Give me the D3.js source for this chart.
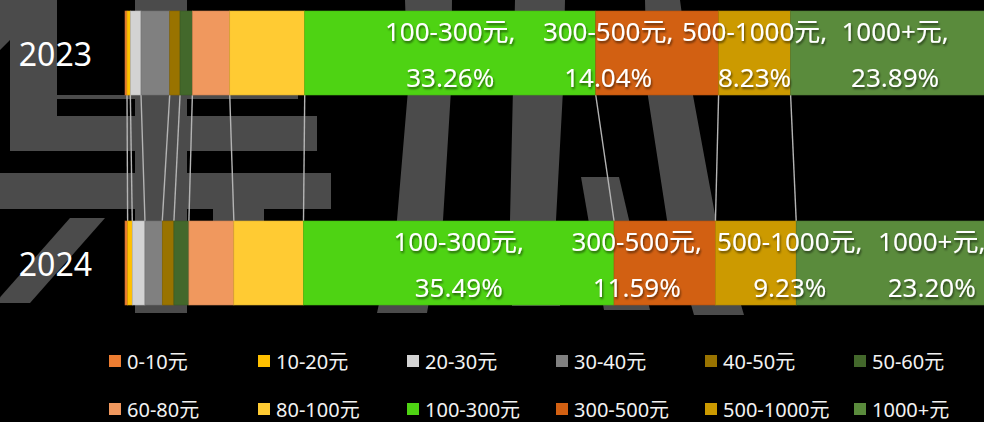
<!DOCTYPE html>
<html>
<head>
<meta charset="utf-8">
<script src="https://cdn.jsdelivr.net/npm/d3@7"></script>
<style>
  html, body { margin: 0; padding: 0; background: #000; }
  svg { display: block; }
  text { font-family: "Noto Sans", "Noto Sans CJK SC", sans-serif; }
</style>
</head>
<body>
<div id="chart"></div>
<script>
// price bands and share (%) per year
const categories = ["0-10元", "10-20元", "20-30元", "30-40元", "40-50元", "50-60元",
  "60-80元", "80-100元", "100-300元", "300-500元", "500-1000元", "1000+元"];
const years = ["2023", "2024"];
const share2023 = [0.23, 0.38, 1.22, 3.28, 1.18, 1.41, 4.27, 8.57, 33.26, 14.04, 8.23, 23.89];
const share2024 = [0.30, 0.53, 1.45, 1.98, 1.33, 1.71, 5.14, 7.96, 35.49, 11.59, 9.23, 23.20];
const labeledCats = ["100-300元", "300-500元", "500-1000元", "1000+元"];

const colors = ["#ed7d31", "#ffc000", "#d3d3d3", "#808080", "#997300", "#43682b",
  "#f0985e", "#ffcb33", "#4ed313", "#d26012", "#cc9a00", "#5a8b3c"];

// hand nudges for overlapping labels (px)
const labelNudge = {
  "2023": {"300-500元": -49},
  "2024": {"300-500元": -28, "500-1000元": 34, "1000+元": 34}
};

document.addEventListener("DOMContentLoaded", setup)

function setup() {
  const width = 984, height = 422;
  const svg = d3.select("#chart").append("svg")
      .attr("width", width)
      .attr("height", height);

  const defs = svg.append("defs");
  defs.append("filter").attr("id", "shadow")
      .attr("x", "-10%").attr("y", "-20%").attr("width", "130%").attr("height", "160%")
      .append("feDropShadow")
      .attr("dx", 1).attr("dy", 2).attr("stdDeviation", 1.2)
      .attr("flood-color", "#000").attr("flood-opacity", 0.55);

  drawWatermark(svg);

  const x = d3.scaleLinear().domain([0, 100]).range([125, 1000]);
  const y = d3.scaleBand().domain(years).range([11, 305]).paddingInner(0.6);

  const rows = [
    {year: "2023", values: share2023},
    {year: "2024", values: share2024}
  ];
  rows.forEach(r => {
    let acc = 0;
    r.segs = r.values.map((v, i) => {
      const s = {cat: categories[i], v: v, x0: acc, x1: acc + v, i: i};
      acc += v;
      return s;
    });
  });

  // connector lines between segment boundaries
  const links = rows[0].segs.slice(0, -1).map((s, i) => [s.x1, rows[1].segs[i].x1]);
  svg.append("g")
      .selectAll("line")
      .data(links)
      .enter()
      .append("line")
      .attr("x1", d => x(d[0]))
      .attr("x2", d => x(d[1]))
      .attr("y1", y("2023") + y.bandwidth())
      .attr("y2", y("2024"))
      .attr("stroke", "#b4b4b4")
      .attr("stroke-width", 1.4);

  const bars = svg.append("g")
      .selectAll("g")
      .data(rows)
      .enter()
      .append("g");

  bars.selectAll("rect")
      .data(d => d.segs)
      .enter()
      .append("rect")
      .attr("x", d => x(d.x0))
      .attr("width", d => x(d.x1) - x(d.x0))
      .attr("y", function() { return y(d3.select(this.parentNode).datum().year); })
      .attr("height", y.bandwidth())
      .attr("fill", d => colors[d.i])
      .attr("stroke", d => d3.color(colors[d.i]).darker(0.4))
      .attr("stroke-width", 0.6);

  // segment labels
  rows.forEach(r => {
    const cy = y(r.year) + y.bandwidth() / 2;
    const g = svg.append("g").attr("filter", "url(#shadow)");
    r.segs.filter(s => labeledCats.includes(s.cat)).forEach(s => {
      const cx = (x(s.x0) + x(s.x1)) / 2 + (labelNudge[r.year][s.cat] || 0);
      g.append("text")
          .attr("x", cx).attr("y", cy - 22)
          .attr("text-anchor", "middle")
          .attr("dominant-baseline", "central")
          .attr("fill", "#fff")
          .attr("font-size", 26)
          .text(s.cat + ",");
      g.append("text")
          .attr("x", cx).attr("y", cy + 24)
          .attr("text-anchor", "middle")
          .attr("dominant-baseline", "central")
          .attr("fill", "#fff")
          .attr("font-size", 26)
          .text(s.v.toFixed(2) + "%");
    });
  });

  // year axis labels
  svg.append("g")
      .selectAll("text")
      .data(years)
      .enter()
      .append("text")
      .attr("x", 92)
      .attr("y", d => y(d) + y.bandwidth() / 2)
      .attr("text-anchor", "end")
      .attr("dominant-baseline", "central")
      .attr("fill", "#fff")
      .attr("font-size", 32)
      .text(d => d);

  // legend, 6 per row
  const legend = svg.append("g")
      .selectAll("g")
      .data(categories)
      .enter()
      .append("g")
      .attr("transform", (d, i) => `translate(${109 + (i % 6) * 149},${i < 6 ? 361 : 409})`);
  legend.append("rect")
      .attr("x", 0).attr("y", -6)
      .attr("width", 12).attr("height", 12)
      .attr("fill", (d, i) => colors[i]);
  legend.append("text")
      .attr("x", 18)
      .attr("y", 0)
      .attr("dominant-baseline", "central")
      .attr("fill", "#f2f2f2")
      .attr("font-size", 20)
      .text(d => d);
}

// big faded watermark behind the chart
function drawWatermark(svg) {
  const shapes = [
    [[0, 0], [57, 0], [57, 150], [10, 150], [10, 40], [0, 50]],
    [[57, 95], [298, 95], [298, 99], [57, 99]],
    [[10, 116], [317, 116], [317, 151], [10, 151]],
    [[0, 173], [331, 173], [331, 209], [0, 209]],
    [[135, 0], [187, 0], [187, 313], [135, 313]],
    [[70, 218], [105, 218], [30, 303], [-5, 303]],
    [[213, 209], [264, 209], [264, 225], [213, 225]],
    [[405, 0], [452, 0], [451, 90], [443, 220], [427, 313], [377, 313], [397, 220], [408, 90]],
    [[515, 0], [565, 0], [563, 90], [556, 220], [560, 306], [512, 306], [510, 220]],
    [[581, 177], [619, 177], [650, 310], [604, 310]],
    [[645, 0], [680, 0], [692, 90], [716, 220], [744, 315], [694, 315], [667, 220], [647, 90]]
  ];
  svg.append("g")
      .selectAll("path")
      .data(shapes)
      .enter()
      .append("path")
      .attr("d", d => d3.line()(d) + "Z")
      .attr("fill", "#4b4b4b");
}
</script>
</body>
</html>
